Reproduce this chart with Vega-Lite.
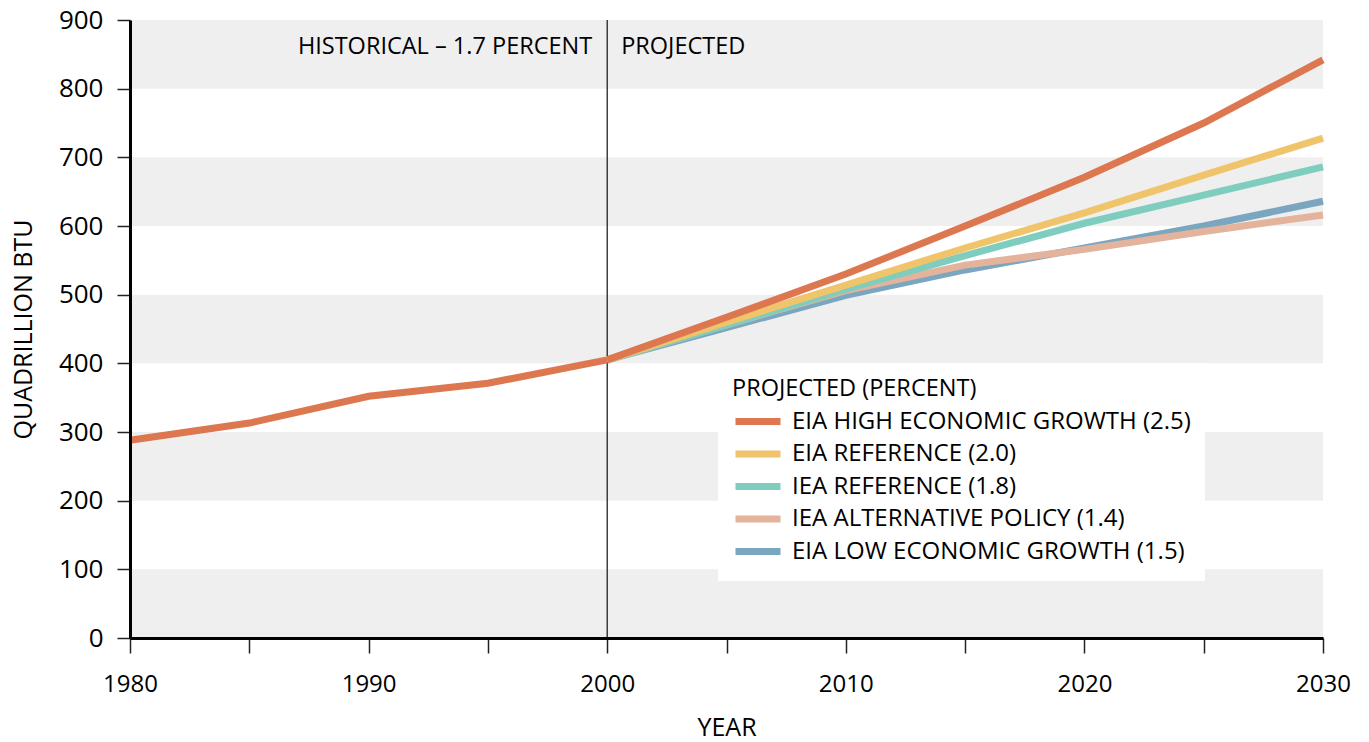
{
  "$schema": "https://vega.github.io/schema/vega-lite/v6.json",
  "width": 1193,
  "height": 618,
  "autosize": {"type": "none"},
  "padding": {"left": 130, "top": 20, "right": 46, "bottom": 104},
  "background": "white",
  "config": {
    "view": {"stroke": null},
    "font": "Open Sans",
    "text": {"font": "Open Sans"}
  },
  "datasets": {
    "bands": [
      {"lo": 0, "hi": 100},
      {"lo": 200, "hi": 300},
      {"lo": 400, "hi": 500},
      {"lo": 600, "hi": 700},
      {"lo": 800, "hi": 900}
    ],
    "hist": [
      {"year": 1980, "value": 288},
      {"year": 1985, "value": 313},
      {"year": 1990, "value": 352},
      {"year": 1995, "value": 371},
      {"year": 2000, "value": 405}
    ],
    "proj": [
      {"series": "EIA LOW ECONOMIC GROWTH (1.5)", "year": 2000, "value": 405},
      {"series": "EIA LOW ECONOMIC GROWTH (1.5)", "year": 2005, "value": 452},
      {"series": "EIA LOW ECONOMIC GROWTH (1.5)", "year": 2010, "value": 499},
      {"series": "EIA LOW ECONOMIC GROWTH (1.5)", "year": 2015, "value": 536},
      {"series": "EIA LOW ECONOMIC GROWTH (1.5)", "year": 2020, "value": 568},
      {"series": "EIA LOW ECONOMIC GROWTH (1.5)", "year": 2025, "value": 600},
      {"series": "EIA LOW ECONOMIC GROWTH (1.5)", "year": 2030, "value": 636},
      {"series": "IEA ALTERNATIVE POLICY (1.4)", "year": 2000, "value": 405},
      {"series": "IEA ALTERNATIVE POLICY (1.4)", "year": 2005, "value": 456},
      {"series": "IEA ALTERNATIVE POLICY (1.4)", "year": 2010, "value": 506},
      {"series": "IEA ALTERNATIVE POLICY (1.4)", "year": 2015, "value": 543},
      {"series": "IEA ALTERNATIVE POLICY (1.4)", "year": 2020, "value": 566},
      {"series": "IEA ALTERNATIVE POLICY (1.4)", "year": 2025, "value": 592},
      {"series": "IEA ALTERNATIVE POLICY (1.4)", "year": 2030, "value": 616},
      {"series": "IEA REFERENCE (1.8)", "year": 2000, "value": 405},
      {"series": "IEA REFERENCE (1.8)", "year": 2005, "value": 456},
      {"series": "IEA REFERENCE (1.8)", "year": 2010, "value": 508},
      {"series": "IEA REFERENCE (1.8)", "year": 2015, "value": 557},
      {"series": "IEA REFERENCE (1.8)", "year": 2020, "value": 604},
      {"series": "IEA REFERENCE (1.8)", "year": 2025, "value": 645},
      {"series": "IEA REFERENCE (1.8)", "year": 2030, "value": 686},
      {"series": "EIA REFERENCE (2.0)", "year": 2000, "value": 405},
      {"series": "EIA REFERENCE (2.0)", "year": 2005, "value": 460},
      {"series": "EIA REFERENCE (2.0)", "year": 2010, "value": 514},
      {"series": "EIA REFERENCE (2.0)", "year": 2015, "value": 568},
      {"series": "EIA REFERENCE (2.0)", "year": 2020, "value": 619},
      {"series": "EIA REFERENCE (2.0)", "year": 2025, "value": 674},
      {"series": "EIA REFERENCE (2.0)", "year": 2030, "value": 728},
      {"series": "EIA HIGH ECONOMIC GROWTH (2.5)", "year": 2000, "value": 405},
      {"series": "EIA HIGH ECONOMIC GROWTH (2.5)", "year": 2005, "value": 467},
      {"series": "EIA HIGH ECONOMIC GROWTH (2.5)", "year": 2010, "value": 530},
      {"series": "EIA HIGH ECONOMIC GROWTH (2.5)", "year": 2015, "value": 600},
      {"series": "EIA HIGH ECONOMIC GROWTH (2.5)", "year": 2020, "value": 671},
      {"series": "EIA HIGH ECONOMIC GROWTH (2.5)", "year": 2025, "value": 750},
      {"series": "EIA HIGH ECONOMIC GROWTH (2.5)", "year": 2030, "value": 842}
    ],
    "divider": [{"year": 2000}],
    "notes": [
      {"year": 2000, "value": 860, "label": "HISTORICAL – 1.7 PERCENT", "side": "left"},
      {"year": 2000, "value": 860, "label": "PROJECTED", "side": "right"}
    ]
  },
  "layer": [
    {
      "data": {"name": "bands"},
      "mark": {"type": "rect", "color": "#efefef"},
      "encoding": {
        "x": {"datum": 1980, "type": "quantitative", "scale": {"domain": [1980, 2030], "nice": false, "zero": false}},
        "x2": {"datum": 2030},
        "y": {"field": "lo", "type": "quantitative", "scale": {"domain": [0, 900], "nice": false}},
        "y2": {"field": "hi"}
      }
    },
    {
      "data": {"name": "divider"},
      "mark": {"type": "rule", "color": "#111111", "strokeWidth": 1.2},
      "encoding": {
        "x": {"field": "year", "type": "quantitative"}
      }
    },
    {
      "data": {"name": "hist"},
      "mark": {"type": "line", "color": "#dd7750", "strokeWidth": 7},
      "encoding": {
        "x": {"field": "year", "type": "quantitative"},
        "y": {"field": "value", "type": "quantitative"}
      }
    },
    {
      "data": {"name": "proj"},
      "mark": {"type": "line", "strokeWidth": 7},
      "encoding": {
        "x": {
          "field": "year", "type": "quantitative",
          "axis": {
            "title": "YEAR",
            "zindex": 1,
            "values": [1980, 1985, 1990, 1995, 2000, 2005, 2010, 2015, 2020, 2025, 2030],
            "format": "d",
            "labelExpr": "datum.value % 10 === 0 ? datum.label : ''",
            "grid": false,
            "domainColor": "#000000",
            "domainWidth": 3,
            "tickColor": "#222222",
            "tickWidth": 1.5,
            "tickSize": 15,
            "labelFontSize": 24,
            "labelColor": "#000000",
            "labelPadding": 19,
            "labelFont": "Open Sans",
            "titleFont": "Open Sans",
            "titleFontSize": 25,
            "titleFontWeight": "normal",
            "titleColor": "#000000",
            "titlePadding": 19,
            "labelFlush": false,
            "labelOverlap": false
          }
        },
        "y": {
          "field": "value", "type": "quantitative",
          "axis": {
            "title": "QUADRILLION BTU",
            "zindex": 1,
            "values": [0, 100, 200, 300, 400, 500, 600, 700, 800, 900],
            "grid": false,
            "domainColor": "#000000",
            "domainWidth": 3,
            "tickColor": "#222222",
            "tickWidth": 1.5,
            "tickSize": 13,
            "labelFontSize": 26,
            "labelColor": "#000000",
            "labelPadding": 14,
            "labelFont": "Open Sans",
            "titleFont": "Open Sans",
            "titleFontSize": 25,
            "titleFontWeight": "normal",
            "titleColor": "#000000",
            "titlePadding": 22
          }
        },
        "color": {
          "field": "series", "type": "nominal",
          "scale": {
            "domain": ["EIA HIGH ECONOMIC GROWTH (2.5)", "EIA REFERENCE (2.0)", "IEA REFERENCE (1.8)", "IEA ALTERNATIVE POLICY (1.4)", "EIA LOW ECONOMIC GROWTH (1.5)"],
            "range": ["#dd7750", "#f0c46a", "#7fcdbf", "#e3b39b", "#7ba6bf"]
          },
          "legend": {
            "title": "PROJECTED (PERCENT)",
            "orient": "none",
            "legendX": 588,
            "legendY": 343,
            "fillColor": "white",
            "padding": 14,
            "symbolType": "stroke",
            "symbolSize": 2025,
            "symbolStrokeWidth": 7,
            "clipHeight": 30,
            "rowPadding": 2.5,
            "labelFontSize": 24,
            "labelFont": "Open Sans",
            "labelColor": "#000000",
            "labelOffset": 8,
            "labelLimit": 600,
            "titleFontSize": 23.5,
            "titleFont": "Open Sans",
            "titleFontWeight": "normal",
            "titleColor": "#000000",
            "titlePadding": 6,
            "titleLimit": 600
          }
        }
      }
    },
    {
      "data": {"name": "notes"},
      "transform": [{"filter": "datum.side === 'left'"}],
      "mark": {"type": "text", "align": "right", "baseline": "middle", "dx": -15, "fontSize": 23.5, "color": "#000000"},
      "encoding": {
        "x": {"field": "year", "type": "quantitative"},
        "y": {"field": "value", "type": "quantitative"},
        "text": {"field": "label"}
      }
    },
    {
      "data": {"name": "notes"},
      "transform": [{"filter": "datum.side === 'right'"}],
      "mark": {"type": "text", "align": "left", "baseline": "middle", "dx": 14, "fontSize": 23.5, "color": "#000000"},
      "encoding": {
        "x": {"field": "year", "type": "quantitative"},
        "y": {"field": "value", "type": "quantitative"},
        "text": {"field": "label"}
      }
    }
  ]
}
